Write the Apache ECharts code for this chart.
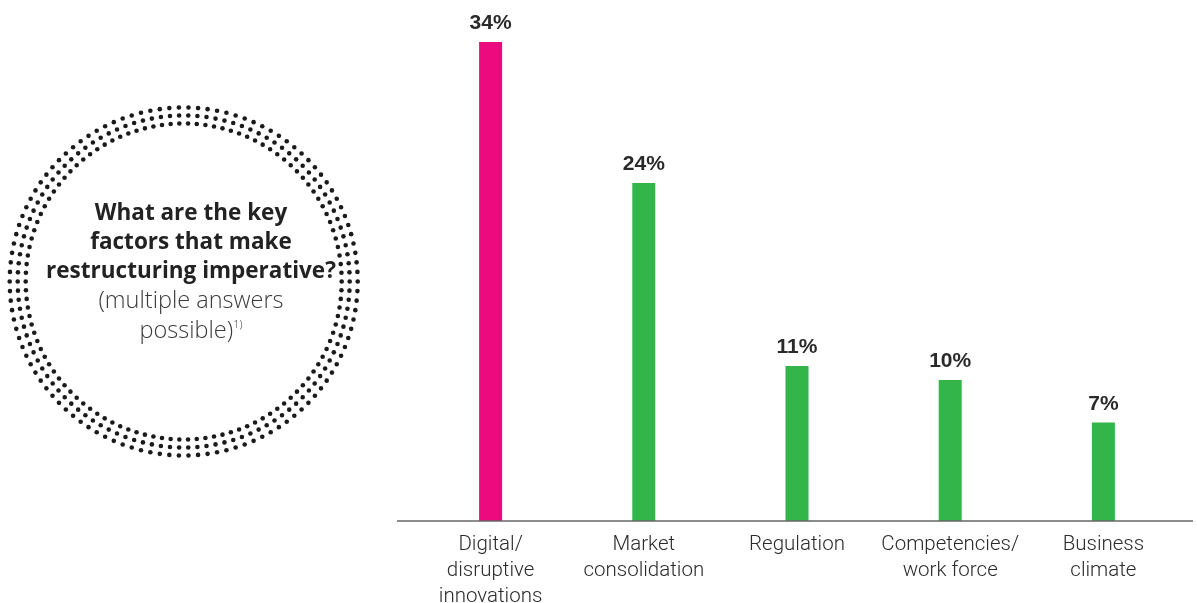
<!DOCTYPE html>
<html>
<head>
<meta charset="utf-8">
<script src="https://cdn.jsdelivr.net/npm/echarts@6/dist/echarts.min.js"></script>
<style>
html,body{margin:0;padding:0;background:#fff;}
#chart{width:1197px;height:603px;}
</style>
</head>
<body>
<div id="chart"></div>
<script>
const categories = ['Digital/\ndisruptive\ninnovations', 'Market\nconsolidation', 'Regulation', 'Competencies/\nwork force', 'Business\nclimate'];
const values = [34, 24, 11, 10, 7];
const barColors = ['#EC0B7E', '#33B54A', '#33B54A', '#33B54A', '#33B54A'];

// decorative dotted ring
const ringCenter = [183.7, 281.5];
const ringRadii = [174, 166, 158];
const dotsPerRing = 114;
const dots = [];
for (const r of ringRadii) {
  for (let i = 0; i < dotsPerRing; i++) {
    const a = (i / dotsPerRing) * Math.PI * 2;
    dots.push({
      type: 'circle',
      shape: { cx: ringCenter[0] + r * Math.cos(a), cy: ringCenter[1] + r * Math.sin(a), r: 2.3 },
      style: { fill: '#1a1a1a' },
      silent: true
    });
  }
}

const chart = echarts.init(document.getElementById('chart'));
chart.setOption({
  animation: false,
  backgroundColor: '#ffffff',
  title: {
    left: 186,
    top: 194,
    textAlign: 'center',
    text: '{b|What are the key}\n{b|factors that make}\n{b|restructuring imperative?}\n{l|(multiple answers}\n{l|possible)}{s|1)}',
    textStyle: {
      rich: {
        b: { fontFamily: 'Open Sans', fontWeight: 'bold', fontSize: 22.5, lineHeight: 29, color: '#222222' },
        l: { fontFamily: 'Open Sans', fontWeight: 300, fontSize: 23.5, lineHeight: 30, color: '#3a3a3a' },
        s: { fontFamily: 'Open Sans', fontWeight: 300, fontSize: 11, lineHeight: 30, color: '#3a3a3a', verticalAlign: 'top', padding: [3, 0, 0, 0] }
      }
    }
  },
  graphic: [
    ...dots,
    {
      type: 'line',
      shape: { x1: 397, y1: 521, x2: 1193, y2: 521 },
      style: { stroke: '#666666', lineWidth: 1.6 },
      z: 10,
      silent: true
    }
  ],
  grid: { left: 414, right: 17, top: 42, bottom: 82, outerBoundsMode: 'none', containLabel: false },
  xAxis: {
    type: 'category',
    data: categories,
    axisLine: { show: false },
    axisTick: { show: false },
    axisLabel: {
      margin: 11,
      fontFamily: 'Roboto',
      fontWeight: 300,
      fontSize: 20.5,
      lineHeight: 26,
      color: '#2a2a2a',
      interval: 0
    }
  },
  yAxis: {
    type: 'value',
    min: 0,
    max: 34,
    show: false,
    splitLine: { show: false }
  },
  series: [{
    type: 'bar',
    data: values.map((v, i) => ({ value: v, itemStyle: { color: barColors[i] } })),
    barWidth: 23,
    label: {
      show: true,
      position: 'top',
      distance: 8,
      formatter: '{c}%',
      fontFamily: 'Liberation Sans',
      fontWeight: 'bold',
      fontSize: 21,
      color: '#2a2a2a'
    }
  }]
});
</script>
</body>
</html>
